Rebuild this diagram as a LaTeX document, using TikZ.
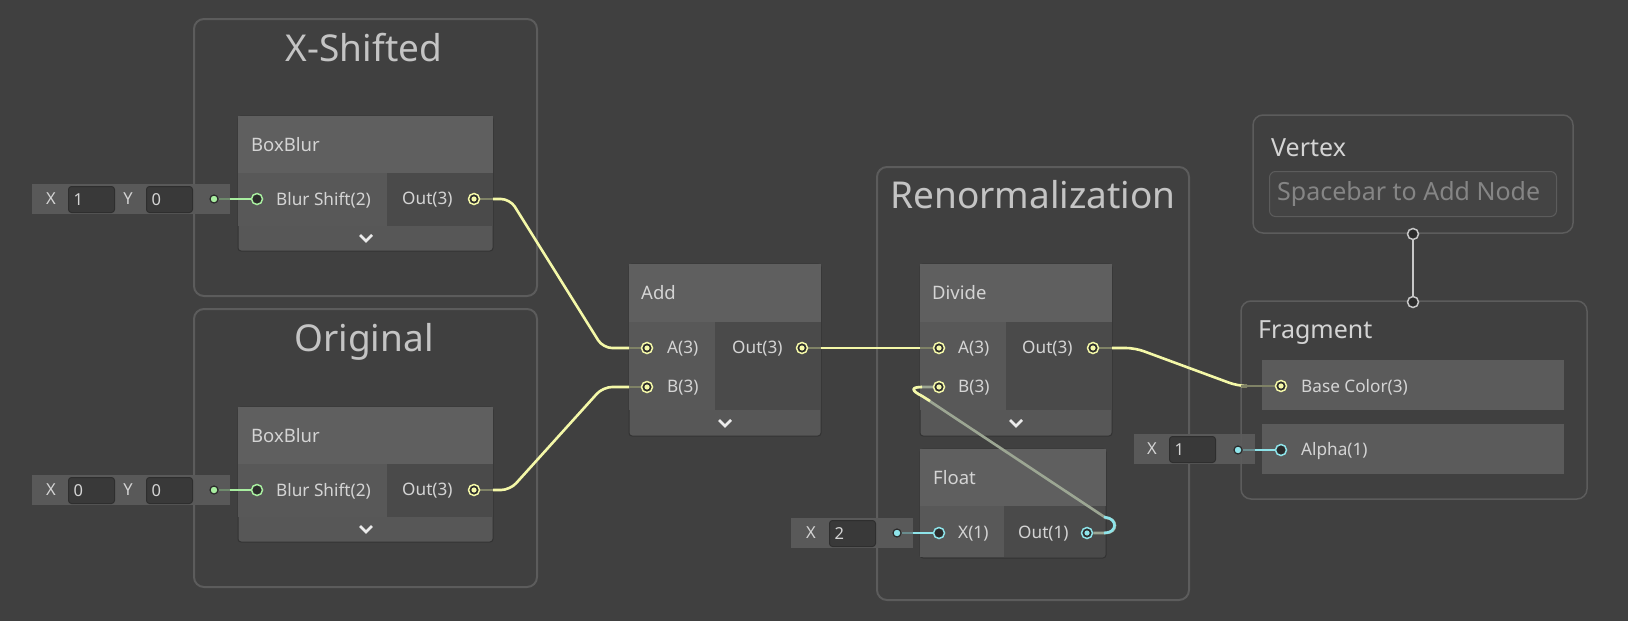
\documentclass[tikz,border=0pt]{standalone}
\usepackage{fontspec}
\setmainfont{Noto Sans}
\usetikzlibrary{calc}

\definecolor{canvas}{HTML}{404040}
\definecolor{frameline}{HTML}{5C5C5C}
\definecolor{titleband}{HTML}{5F5F5F}
\definecolor{incol}{HTML}{585858}
\definecolor{outcol}{HTML}{4A4A4A}
\definecolor{footbar}{HTML}{575757}
\definecolor{nodeedge}{HTML}{333333}
\definecolor{fieldbg}{HTML}{393939}
\definecolor{fieldedge}{HTML}{2E2E2E}
\definecolor{inlinebg}{HTML}{595959}
\definecolor{rowbg}{HTML}{5B5B5B}
\definecolor{portfill}{HTML}{2B2B2B}
\definecolor{txt}{HTML}{D4D4D4}
\definecolor{grouptxt}{HTML}{C4C4C4}
\definecolor{hinttxt}{HTML}{858585}
\definecolor{hintbg}{HTML}{444444}
\definecolor{vecthree}{HTML}{F4F8A8}
\definecolor{vectwo}{HTML}{A8EEA0}
\definecolor{vecone}{HTML}{8EE4EA}
\definecolor{stubthree}{HTML}{7F8266}
\definecolor{stubtwo}{HTML}{6E8A6C}
\definecolor{stubone}{HTML}{6A8C8E}
\definecolor{wiremix}{HTML}{9CA693}
\definecolor{stackport}{HTML}{C8C8C8}

\newcommand\nodetitlefont{\fontsize{18.5pt}{22pt}\selectfont}
\newcommand\portlabelfont{\fontsize{17.2pt}{20pt}\selectfont}
\newcommand\grouptitlefont{\fontsize{37pt}{44pt}\selectfont}
\newcommand\valuefont{\fontsize{16.5pt}{19pt}\selectfont}
\newcommand\stackfont{\fontsize{25pt}{30pt}\selectfont}

\pgfdeclarelayer{boxes}
\pgfdeclarelayer{wires}
\pgfsetlayers{boxes,wires,main}

\begin{document}
\begin{tikzpicture}[x=1pt, y=-1pt,
    groupbox/.style={draw=frameline, line width=2pt, rounded corners=10pt, anchor=north west, inner sep=0pt, outer sep=0pt},
    grouptitle/.style={text=grouptxt, font=\grouptitlefont},
    nodebody/.style={fill=footbar, draw=nodeedge, line width=1pt, rounded corners=3pt, anchor=north west, inner sep=0pt, outer sep=0pt},
    band/.style={fill=#1, anchor=north west, inner sep=0pt, outer sep=0pt},
    nodetitle/.style={text=txt, anchor=west, inner sep=0pt, font=\nodetitlefont},
    portlabel/.style={text=txt, anchor=west, inner sep=0pt, font=\portlabelfont},
    inlinebox/.style={fill=inlinebg, anchor=north west, inner sep=0pt, minimum height=30pt},
    field/.style={fill=fieldbg, draw=fieldedge, line width=1pt, rounded corners=3pt, anchor=north west, inner xsep=5pt, inner ysep=0pt, minimum height=26pt, text width=36pt, align=left, text=txt, font=\valuefont},
    axis/.style={text=txt, inner sep=0pt, font=\valuefont},
    portring/.style={circle, draw=#1, fill=portfill, line width=1.5pt, minimum size=11pt, inner sep=0pt},
    portfull/.style={portring=#1, path picture={\fill[#1] (path picture bounding box.center) circle (2.6pt);}},
    inlinedot/.style={circle, fill=#1, draw=portfill, line width=1.2pt, minimum size=8pt, inner sep=0pt},
    wire/.style={line width=2.6pt, rounded corners=9pt},
    chev/.style={draw=white!92!black, line width=2.6pt},
    stackbox/.style={draw=frameline, line width=1.5pt, rounded corners=10pt, anchor=north west, inner sep=0pt, outer sep=0pt}]

\begin{pgfonlayer}{boxes}
  \fill[canvas] (0,0) rectangle (1628,621);
  \useasboundingbox (0,0) rectangle (1628,621);

  \node[groupbox, minimum width=343pt, minimum height=277pt] (gx) at (194,19) {};
  \node[grouptitle] (gxt) at (364,48) {X-Shifted};
  \node[groupbox, minimum width=343pt, minimum height=278pt] (go) at (194,309) {};
  \node[grouptitle] (got) at (364,342) {Original};
  \node[groupbox, minimum width=312pt, minimum height=433pt] (gr) at (877,167) {};
  \node[grouptitle] (grt) at (1033,195) {Renormalization};

  \node[nodebody, minimum width=255pt, minimum height=135pt] (bb1) at (238,116) {};
  \node[band=titleband, minimum width=255pt, minimum height=57pt] (bb1h) at (238,116) {};
  \node[band=incol, minimum width=149pt, minimum height=53pt] (bb1i) at (238,173) {};
  \node[band=outcol, minimum width=106pt, minimum height=53pt] (bb1o) at (387,173) {};
  \node[nodetitle] (bb1t) at (251,145) {BoxBlur};
  \node[portlabel] (bb1a) at (276,200) {Blur Shift(2)};
  \node[portlabel] (bb1b) at (402,200) {Out(3)};
  \draw[chev] (360,235) -- (366,241) -- (372,235);

  \node[nodebody, minimum width=255pt, minimum height=135pt] (bb2) at (238,407) {};
  \node[band=titleband, minimum width=255pt, minimum height=57pt] (bb2h) at (238,407) {};
  \node[band=incol, minimum width=149pt, minimum height=53pt] (bb2i) at (238,464) {};
  \node[band=outcol, minimum width=106pt, minimum height=53pt] (bb2o) at (387,464) {};
  \node[nodetitle] (bb2t) at (251,436) {BoxBlur};
  \node[portlabel] (bb2a) at (276,491) {Blur Shift(2)};
  \node[portlabel] (bb2b) at (402,491) {Out(3)};
  \draw[chev] (360,526) -- (366,532) -- (372,526);

  \node[nodebody, minimum width=192pt, minimum height=172pt] (ad) at (629,264) {};
  \node[band=titleband, minimum width=192pt, minimum height=58pt] (adh) at (629,264) {};
  \node[band=incol, minimum width=86pt, minimum height=88pt] (adi) at (629,322) {};
  \node[band=outcol, minimum width=106pt, minimum height=88pt] (ado) at (715,322) {};
  \node[nodetitle] (adt) at (641,293) {Add};
  \node[portlabel] (ada1) at (667,349) {A(3)};
  \node[portlabel] (adb1) at (667,388) {B(3)};
  \node[portlabel] (ado1) at (732,349) {Out(3)};
  \draw[chev] (719,420) -- (725,426) -- (731,420);

  \node[nodebody, minimum width=192pt, minimum height=172pt] (dv) at (920,264) {};
  \node[band=titleband, minimum width=192pt, minimum height=58pt] (dvh) at (920,264) {};
  \node[band=incol, minimum width=86pt, minimum height=88pt] (dvi) at (920,322) {};
  \node[band=outcol, minimum width=106pt, minimum height=88pt] (dvo) at (1006,322) {};
  \node[nodetitle] (dvt) at (932,293) {Divide};
  \node[portlabel] (dva1) at (958,349) {A(3)};
  \node[portlabel] (dvb1) at (958,388) {B(3)};
  \node[portlabel] (dvo1) at (1022,349) {Out(3)};
  \draw[chev] (1010,420) -- (1016,426) -- (1022,420);

  \node[nodebody, fill=outcol, minimum width=186pt, minimum height=109pt] (fl) at (920,449) {};
  \node[band=titleband, minimum width=186pt, minimum height=57pt] (flh) at (920,449) {};
  \node[band=incol, minimum width=84pt, minimum height=51pt] (fli) at (920,506) {};
  \node[nodetitle] (flt) at (933,478) {Float};
  \node[portlabel] (flx1) at (958,534) {X(1)};
  \node[portlabel] (flo1) at (1018,534) {Out(1)};

  \node[inlinebox, minimum width=198pt] (in1) at (32,184) {};
  \node[axis] (in1x) at (51,199) {X};
  \node[field] (in1f) at (68,186) {1};
  \node[axis] (in1y) at (128,199) {Y};
  \node[field] (in1g) at (146,186) {0};

  \node[inlinebox, minimum width=198pt] (in2) at (32,475) {};
  \node[axis] (in2x) at (51,490) {X};
  \node[field] (in2f) at (68,477) {0};
  \node[axis] (in2y) at (128,490) {Y};
  \node[field] (in2g) at (146,477) {0};

  \node[inlinebox, minimum width=122pt] (in3) at (791,518) {};
  \node[axis] (in3x) at (811,533) {X};
  \node[field] (in3f) at (829,520) {2};

  \node[inlinebox, minimum width=121pt] (in4) at (1134,434) {};
  \node[axis] (in4x) at (1152,449) {X};
  \node[field] (in4f) at (1169,436) {1};

  \node[stackbox, minimum width=320pt, minimum height=118pt] (vx) at (1253,115) {};
  \node[nodetitle, font=\stackfont] (vxt) at (1271,148) {Vertex};
  \node[draw=frameline, fill=hintbg, line width=1pt, rounded corners=6pt, anchor=north west, minimum width=287pt, minimum height=45pt, inner sep=0pt] (vxf) at (1269,171) {};
  \node[text=hinttxt, anchor=west, inner sep=0pt, font=\stackfont] (vxh) at (1277,194) {Spacebar to Add Node};

  \node[stackbox, minimum width=346pt, minimum height=198pt] (fr) at (1241,301) {};
  \node[nodetitle, font=\stackfont] (frt) at (1258,333) {Fragment};
  \node[band=rowbg, minimum width=302pt, minimum height=50pt] (frc) at (1262,360) {};
  \node[band=rowbg, minimum width=302pt, minimum height=50pt] (fra) at (1262,424) {};
  \node[portlabel] (frc1) at (1301,387) {Base Color(3)};
  \node[portlabel] (fra1) at (1301,451) {Alpha(1)};
\end{pgfonlayer}

\node[portring=vectwo] (bb1in) at (257,199) {};
\node[portfull=vecthree] (bb1out) at (474,199) {};
\node[portring=vectwo] (bb2in) at (257,490) {};
\node[portfull=vecthree] (bb2out) at (474,490) {};
\node[portfull=vecthree] (ada) at (647,348) {};
\node[portfull=vecthree] (adb) at (647,387) {};
\node[portfull=vecthree] (adout) at (802,348) {};
\node[portfull=vecthree] (dva) at (939,348) {};
\node[portfull=vecthree] (dvb) at (939,387) {};
\node[portfull=vecthree] (dvout) at (1093,348) {};
\node[portring=vecone] (flx) at (939,533) {};
\node[portfull=vecone] (flout) at (1087,533) {};
\node[portfull=vecthree] (frcp) at (1281,386) {};
\node[portring=vecone] (frap) at (1281,450) {};
\node[portring=stackport] (vxp) at (1413,234) {};
\node[portring=stackport] (frp) at (1413,302) {};
\node[inlinedot=vectwo] (in1d) at (214,199) {};
\node[inlinedot=vectwo] (in2d) at (214,490) {};
\node[inlinedot=vecone] (in3d) at (897,533) {};
\node[inlinedot=vecone] (in4d) at (1238,450) {};

\begin{pgfonlayer}{wires}
  \draw[wire, stubtwo] (in1d) -- (in1.east |- in1d);
  \draw[wire, vectwo] (in1.east |- in1d) -- (bb1in);
  \draw[wire, stubtwo] (in2d) -- (in2.east |- in2d);
  \draw[wire, vectwo] (in2.east |- in2d) -- (bb2in);
  \draw[wire, stubone] (in3d) -- (in3.east |- in3d);
  \draw[wire, vecone] (in3.east |- in3d) -- (flx);
  \draw[wire, stubone] (in4d) -- (in4.east |- in4d);
  \draw[wire, vecone] (in4.east |- in4d) -- (frap);

  \draw[wire, stubthree] (bb1out) -- (bb1.east |- bb1out);
  \draw[wire, vecthree] (bb1.east |- bb1out) -- (510,199) -- (603,348) -- (ad.west |- ada);
  \draw[wire, stubthree] (ad.west |- ada) -- (ada);

  \draw[wire, stubthree] (bb2out) -- (bb2.east |- bb2out);
  \draw[wire, vecthree] (bb2.east |- bb2out) -- (510,490) -- (603,387) -- (ad.west |- adb);
  \draw[wire, stubthree] (ad.west |- adb) -- (adb);

  \draw[wire, stubthree] (adout) -- (ad.east |- adout);
  \draw[wire, vecthree] (ad.east |- adout) -- (dv.west |- dva);
  \draw[wire, stubthree] (dv.west |- dva) -- (dva);

  \draw[wire, stubthree] (dvout) -- (dv.east |- dvout);
  \draw[wire, vecthree] (dv.east |- dvout) -- (1135,348) -- (1238,386) -- (fr.west |- frcp);
  \draw[wire, stubthree] (fr.west |- frcp) -- (frcp);

  \draw[wire, wiremix, rounded corners=0pt] (flout) -- (1106,533) .. controls (1118,533) and (1118,518) .. (1106,518) -- (922,396) .. controls (910,390) and (912,387) .. (922,387) -- (dvb);
  \draw[wire, vecone, rounded corners=0pt] (1104,533) .. controls (1118,533) and (1118,518) .. (1104,517);
  \draw[wire, vecthree, rounded corners=0pt] (930,401) -- (922,396) .. controls (910,390) and (912,387) .. (922,387);

  \draw[line width=2.6pt, stackport] (vxp) -- (frp);
\end{pgfonlayer}
\end{tikzpicture}
\end{document}
